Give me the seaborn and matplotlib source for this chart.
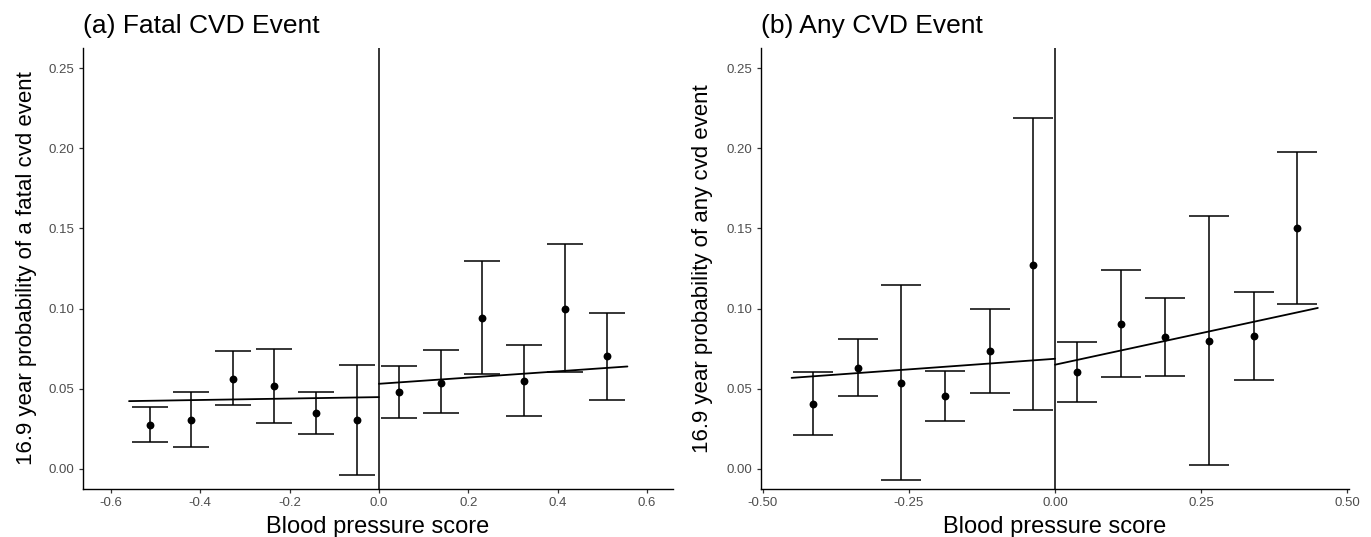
import matplotlib
matplotlib.use("Agg")
import matplotlib.pyplot as plt
import numpy as np
import pandas as pd
import seaborn as sns

# binned estimates with 95% CI
fatal_x = [-0.513, -0.420, -0.326, -0.234, -0.140, -0.048,
           0.046, 0.138, 0.231, 0.325, 0.417, 0.511]
fatal_p = [0.0274, 0.0307, 0.0564, 0.0517, 0.0346, 0.0303,
           0.0479, 0.0539, 0.0944, 0.0550, 0.1000, 0.0703]
fatal_lo = [0.0166, 0.0137, 0.0396, 0.0284, 0.0216, -0.0037,
            0.0317, 0.0346, 0.0591, 0.0330, 0.0604, 0.0432]
fatal_hi = [0.0386, 0.0479, 0.0734, 0.0749, 0.0479, 0.0649,
            0.0643, 0.0739, 0.1298, 0.0776, 0.1400, 0.0975]

any_x = [-0.414, -0.338, -0.263, -0.188, -0.112, -0.038,
         0.038, 0.113, 0.189, 0.264, 0.340, 0.415]
any_p = [0.0407, 0.0631, 0.0535, 0.0454, 0.0737, 0.1273,
         0.0604, 0.0907, 0.0822, 0.0799, 0.0830, 0.1500]
any_lo = [0.0214, 0.0456, -0.0071, 0.0299, 0.0475, 0.0365,
          0.0417, 0.0573, 0.0579, 0.0023, 0.0555, 0.1026]
any_hi = [0.0604, 0.0809, 0.1145, 0.0612, 0.1000, 0.2186,
          0.0793, 0.1239, 0.1065, 0.1580, 0.1106, 0.1978]

# fitted lines either side of the cutoff
fatal_fit_x = [-0.559, 0.0, 0.0, 0.556]
fatal_fit_y = [0.0423, 0.0448, 0.0531, 0.0639]
any_fit_x = [-0.451, 0.0, 0.0, 0.450]
any_fit_y = [0.0568, 0.0687, 0.0650, 0.1004]
fit_side = ["below", "below", "above", "above"]

fatal_xticks = [-0.6, -0.4, -0.2, 0.0, 0.2, 0.4, 0.6]
fatal_xlabels = ["-0.6", "-0.4", "-0.2", "0.0", "0.2", "0.4", "0.6"]
any_xticks = [-0.5, -0.25, 0.0, 0.25, 0.5]
any_xlabels = ["-0.50", "-0.25", "0.00", "0.25", "0.50"]
yticks = [0.0, 0.05, 0.10, 0.15, 0.20, 0.25]
ylabels = ["0.00", "0.05", "0.10", "0.15", "0.20", "0.25"]

sns.set_theme(style="ticks")
plt.rcParams["font.family"] = ["Liberation Sans", "DejaVu Sans"]
plt.rcParams["text.color"] = "black"
plt.rcParams["axes.labelcolor"] = "black"

W, H = 1371, 537
fig = plt.figure(figsize=(W / 100, H / 100), dpi=100)
ax1 = fig.add_axes([83 / W, 48 / H, 590 / W, 441 / H])
ax2 = fig.add_axes([761 / W, 48 / H, 588 / W, 441 / H])


def draw_panel(ax, x, p, lo, hi, fit_x, fit_y, xlim, xticks, xlabels,
               title, ylabel, capsize):
    df = pd.DataFrame({"score": x, "prob": p})
    fit = pd.DataFrame({"score": fit_x, "prob": fit_y, "side": fit_side})
    p_arr = np.array(p)
    yerr = [p_arr - np.array(lo), np.array(hi) - p_arr]
    ax.errorbar(x, p, yerr=yerr, fmt="none", ecolor="black",
                elinewidth=1.1, capsize=capsize, capthick=1.1, zorder=2)
    sns.scatterplot(data=df, x="score", y="prob", color="black", s=32,
                    edgecolor="black", linewidth=0, ax=ax, zorder=3)
    sns.lineplot(data=fit, x="score", y="prob", units="side",
                 estimator=None, color="black", linewidth=1.3, ax=ax,
                 zorder=3)
    ax.axvline(0, color="black", linewidth=1.1, zorder=1)

    ax.set_xlim(*xlim)
    ax.set_ylim(-0.0125, 0.2625)
    ax.set_xticks(xticks)
    ax.set_xticklabels(xlabels)
    ax.set_yticks(yticks)
    ax.set_yticklabels(ylabels)
    ax.tick_params(axis="both", labelsize=9.5, labelcolor="#4D4D4D",
                   color="#333333", length=3, width=0.9, pad=3)
    for side in ["top", "right"]:
        ax.spines[side].set_visible(False)
    for side in ["left", "bottom"]:
        ax.spines[side].set_color("black")
        ax.spines[side].set_linewidth(1.0)

    ax.set_title(title, loc="left", fontsize=19, pad=11, color="black")
    ax.set_xlabel("Blood pressure score", fontsize=17, va="baseline")
    ax.xaxis.set_label_coords(0.5, -0.1)
    ax.set_ylabel(ylabel, fontsize=16)
    ax.yaxis.label.set_va("center")


draw_panel(ax1, fatal_x, fatal_p, fatal_lo, fatal_hi, fatal_fit_x,
           fatal_fit_y, (-0.662, 0.658), fatal_xticks, fatal_xlabels,
           "(a) Fatal CVD Event",
           "16.9 year probability of a fatal cvd event", 13.2)
ax1.yaxis.set_label_coords(-0.095, 0.5)

draw_panel(ax2, any_x, any_p, any_lo, any_hi, any_fit_x, any_fit_y,
           (-0.5034, 0.5034), any_xticks, any_xlabels,
           "(b) Any CVD Event",
           "16.9 year probability of any cvd event", 14.2)
ax2.yaxis.set_label_coords(-0.1, 0.5)

fig.savefig("out.png", dpi=100, facecolor="white")
